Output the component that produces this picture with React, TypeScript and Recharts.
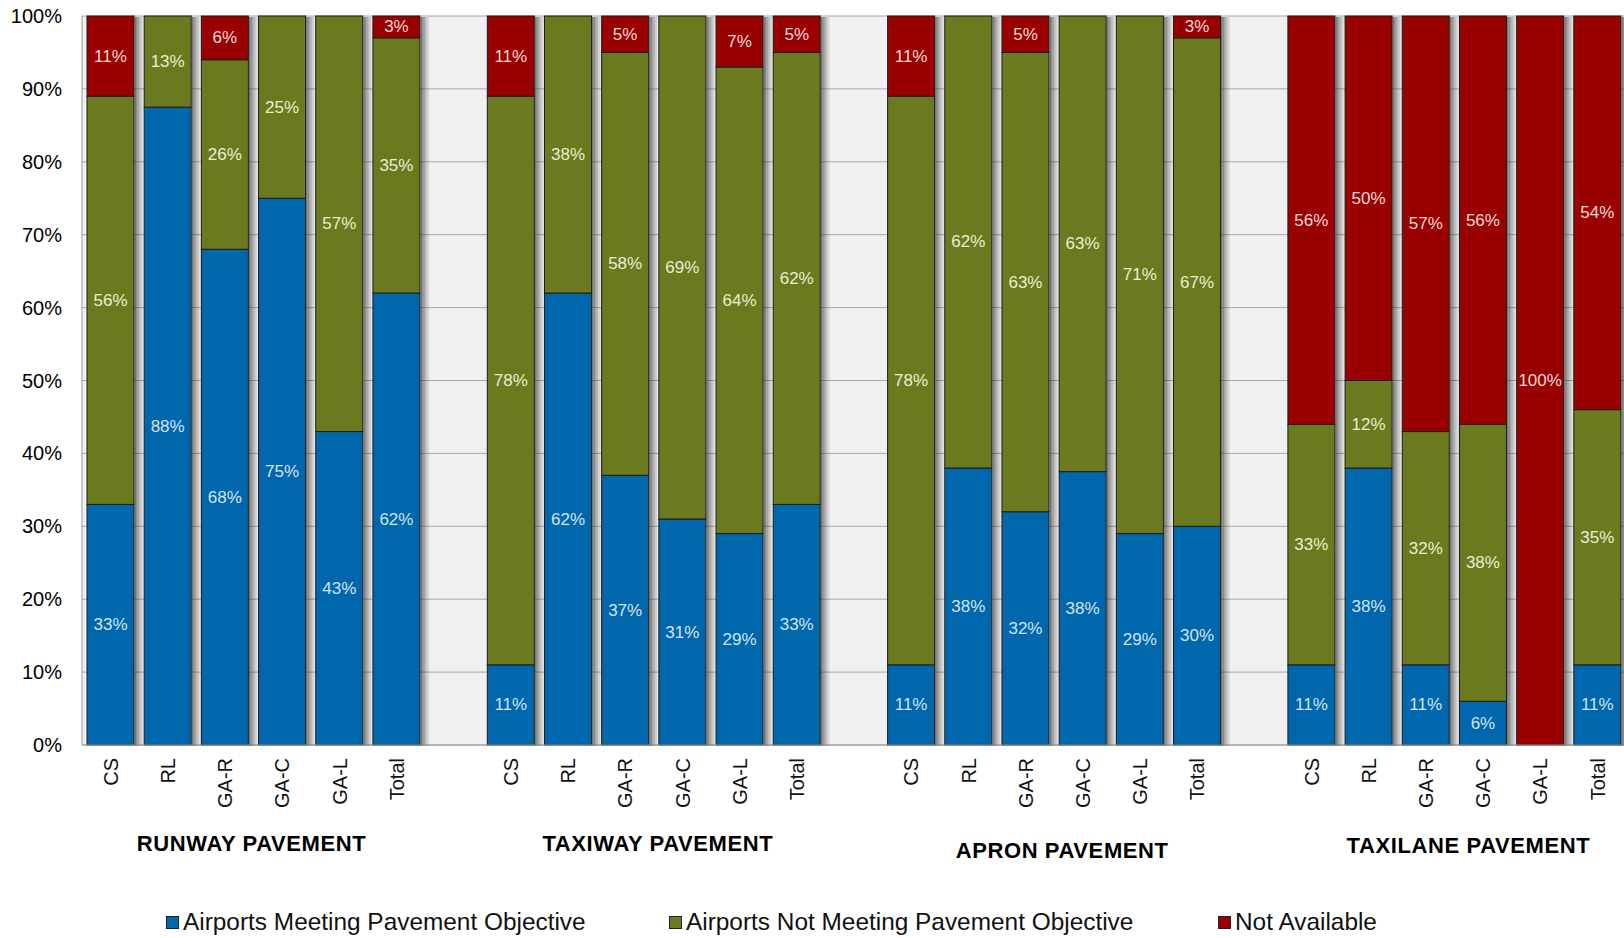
import React from 'react';
import { Bar, BarChart, CartesianGrid, LabelList, XAxis, YAxis } from 'recharts';

const CATEGORIES = ['CS', 'RL', 'GA-R', 'GA-C', 'GA-L', 'Total'];
const GROUPS = ['RUNWAY PAVEMENT', 'TAXIWAY PAVEMENT', 'APRON PAVEMENT', 'TAXILANE PAVEMENT'];

// percent of airports, one row per pavement group, one value per category
const MEETING = [
  [33, 87.5, 68, 75, 43, 62],
  [11, 62, 37, 31, 29, 33],
  [11, 38, 32, 37.5, 29, 30],
  [11, 38, 11, 6, 0, 11],
];
const NOT_MEETING = [
  [56, 12.5, 26, 25, 57, 35],
  [78, 38, 58, 69, 64, 62],
  [78, 62, 63, 62.5, 71, 67],
  [33, 12, 32, 38, 0, 35],
];
const NOT_AVAILABLE = [
  [11, 0, 6, 0, 0, 3],
  [11, 0, 5, 0, 7, 5],
  [11, 0, 5, 0, 0, 3],
  [56, 50, 57, 56, 100, 54],
];
const Y_TICKS = [0, 10, 20, 30, 40, 50, 60, 70, 80, 90, 100];

const SERIES = [
  { key: 'meeting', name: 'Airports Meeting Pavement Objective', color: '#0067ac', text: '#d3e3f0' },
  { key: 'notMeeting', name: 'Airports Not Meeting Pavement Objective', color: '#6b7a1e', text: '#ebedd2' },
  { key: 'notAvailable', name: 'Not Available', color: '#990000', text: '#f3d8d8' },
];

// layout
const CHART_W = 1626;
const CHART_H = 938;
const PLOT_LEFT = 82;
const PLOT_TOP = 16;
const PLOT_BOTTOM = 745;
const FONT = "'Liberation Sans', Arial, sans-serif";
const TITLE_NUDGE = [
  { dx: -2, dy: 0 },
  { dx: 4, dy: 0 },
  { dx: 8, dy: 7 },
  { dx: 14, dy: 2 },
];
const SHADOW_STEPS = [0.62, 0.5, 0.38, 0.27, 0.17, 0.08];

type Row = {
  key: string;
  cat: string;
  gi: number;
  ci: number;
  meeting?: number | null;
  notMeeting?: number | null;
  notAvailable?: number | null;
};

const ROWS: Row[] = [];
GROUPS.forEach((_, gi) => {
  CATEGORIES.forEach((cat, ci) => {
    ROWS.push({
      key: `${gi}-${ci}`,
      cat,
      gi,
      ci,
      meeting: MEETING[gi][ci],
      notMeeting: NOT_MEETING[gi][ci],
      notAvailable: NOT_AVAILABLE[gi][ci],
    });
  });
  if (gi < GROUPS.length - 1) {
    ROWS.push({ key: `gap-${gi}`, cat: '', gi, ci: -1, meeting: null, notMeeting: null, notAvailable: null });
  }
});

const BAND = (CHART_W - PLOT_LEFT) / ROWS.length;

function ShadowBar(props: any) {
  const { x, y, width, height, fill } = props;
  if (!height || height <= 0) return null;
  return (
    <g>
      {SHADOW_STEPS.map((op, i) => (
        <rect
          key={i}
          x={x + width + 0.5 + i * 1.5}
          y={y + 1}
          width={1.5}
          height={height}
          fill="#2a2a2a"
          fillOpacity={op}
        />
      ))}
      <rect x={x} y={y} width={width} height={height} fill={fill} stroke="#1c1c1c" strokeWidth={1} />
    </g>
  );
}

const makeLabel = (color: string) => (p: any) => {
  const vb = p.viewBox ?? p;
  const v = Number(p.value);
  if (!v || !vb) return null;
  return (
    <text
      x={vb.x + vb.width / 2}
      y={vb.y + vb.height / 2}
      fill={color}
      fontSize={17}
      fontFamily={FONT}
      textAnchor="middle"
      dominantBaseline="central"
    >
      {Math.round(v)}%
    </text>
  );
};

function CategoryTick(props: any) {
  const { x, payload } = props;
  const row = ROWS[payload.index];
  if (!row || !row.cat) return null;
  const labelY = PLOT_BOTTOM + 13;
  return (
    <g>
      <text
        x={x}
        y={labelY}
        transform={`rotate(-90, ${x}, ${labelY})`}
        textAnchor="end"
        dy="0.36em"
        fontSize={20}
        fontFamily={FONT}
        fill="#111"
      >
        {row.cat}
      </text>
      {row.ci === 2 && (
        <text
          x={x + BAND / 2 + TITLE_NUDGE[row.gi].dx}
          y={PLOT_BOTTOM + 98 + TITLE_NUDGE[row.gi].dy}
          textAnchor="middle"
          dominantBaseline="central"
          fontSize={22}
          letterSpacing={0.6}
          fontWeight="bold"
          fontFamily={FONT}
          fill="#000"
        >
          {GROUPS[row.gi]}
        </text>
      )}
    </g>
  );
}

function PercentTick(props: any) {
  const { y, payload } = props;
  return (
    <text x={PLOT_LEFT - 20} y={y} textAnchor="end" dominantBaseline="central" fontSize={20} fontFamily={FONT} fill="#000">
      {payload.value}%
    </text>
  );
}

const LEGEND_POS = [166, 669, 1218];

export default function App() {
  return (
    <div
      style={{
        position: 'absolute',
        left: 0,
        top: 0,
        width: 1624,
        height: 938,
        overflow: 'hidden',
        background: '#fff',
        fontFamily: FONT,
      }}
    >
      <BarChart
        width={CHART_W}
        height={CHART_H}
        data={ROWS}
        margin={{ top: PLOT_TOP, right: 0, bottom: 0, left: 0 }}
        barSize={47}
      >
        <CartesianGrid vertical={false} stroke="#a8a8a8" fill="#f0f0f0" />
        <XAxis
          dataKey="key"
          interval={0}
          tick={<CategoryTick />}
          tickLine={false}
          axisLine={{ stroke: '#9a9a9a' }}
          height={CHART_H - PLOT_BOTTOM}
        />
        <YAxis
          domain={[0, 100]}
          ticks={Y_TICKS}
          tick={<PercentTick />}
          tickLine={false}
          axisLine={{ stroke: '#9a9a9a' }}
          width={PLOT_LEFT}
        />
        {SERIES.map((s) => (
          <Bar
            key={s.key}
            dataKey={s.key}
            name={s.name}
            stackId="a"
            fill={s.color}
            shape={(p: any) => <ShadowBar {...p} fill={s.color} />}
            isAnimationActive={false}
          >
            <LabelList dataKey={s.key} content={makeLabel(s.text)} />
          </Bar>
        ))}
      </BarChart>
      {SERIES.map((s, i) => (
        <div
          key={s.key}
          style={{
            position: 'absolute',
            left: LEGEND_POS[i],
            top: 907,
            height: 30,
            display: 'flex',
            alignItems: 'center',
            fontSize: 24.4,
            color: '#111',
            whiteSpace: 'nowrap',
          }}
        >
          <span
            style={{
              display: 'inline-block',
              width: 11,
              height: 11,
              background: s.color,
              border: '1px solid #222',
              marginRight: 4,
            }}
          />
          {s.name}
        </div>
      ))}
    </div>
  );
}
